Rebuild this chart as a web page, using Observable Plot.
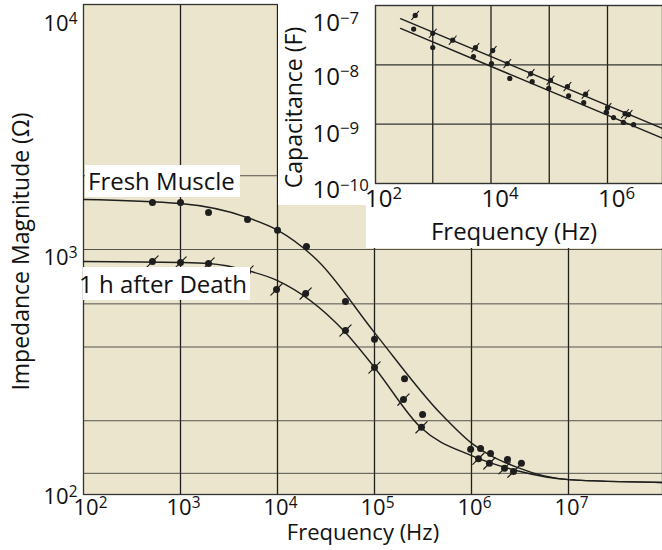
<!DOCTYPE html>
<html><head><meta charset="utf-8">
<script src="https://cdn.jsdelivr.net/npm/d3@7"></script>
<script src="https://cdn.jsdelivr.net/npm/@observablehq/plot@0.6"></script>
<style>
body{margin:0;background:#fff;}
#wrap{position:relative;width:662px;height:550px;overflow:hidden;font-family:"Open Sans",sans-serif;}
#wrap svg{position:absolute;overflow:hidden;}
.white{position:absolute;background:#fff;}
.lbl{position:absolute;background:#fff;font-size:24px;color:#111;white-space:nowrap;font-family:"Open Sans",sans-serif;}
</style></head><body><div id="wrap"></div>
<script>
// ---- Main chart: impedance magnitude vs frequency ----
const freshCurveFreq = [100, 1000, 4900, 10000, 26000, 100000, 480000, 1e6, 2.96e6, 1e7, 9.3e7];
const freshCurveZ    = [1600, 1540, 1350, 1200, 900, 458, 214, 162, 129, 115, 112];
const deathCurveFreq = [100, 1000, 1945, 4910, 10000, 48000, 100000, 298000, 1e6, 2.96e6, 1e7, 9.3e7];
const deathCurveZ    = [893, 885, 877, 820, 747, 467, 330, 188, 144, 125, 115, 112];

const freshFreq = [514, 1000, 1945, 4910, 10000, 19900, 50200, 100000, 204000, 313000, 980000, 1.24e6, 1.57e6, 2.35e6, 3.27e6];
const freshZ    = [1556, 1556, 1416, 1325, 1197, 1028, 614, 430, 297, 212, 153, 154, 147, 139, 134];
const deathFreq = [514, 1000, 1945, 4910, 9770, 19500, 50200, 100000, 199000, 305000, 1.18e6, 1.53e6, 2.19e6, 2.71e6];
const deathZ    = [893, 885, 877, 813, 687, 661, 467, 330, 244, 188, 140, 134, 128, 124];

const mainXTicks = [1e2, 1e3, 1e4, 1e5, 1e6, 1e7];
const mainXGrid  = [1e3, 1e4, 1e5, 1e6, 1e7];
const mainYGrid  = [122, 200, 400, 600, 1000, 2000];

// ---- Inset: capacitance vs frequency ----
const capUpperLineFreq = [280, 8.7e6];
const capUpperLineC    = [6.0e-8, 8.5e-10];
const capLowerLineFreq = [280, 8.7e6];
const capLowerLineC    = [4.1e-8, 5.8e-10];

const capUpperFreq = [500, 1000, 2200, 5400, 10700, 19000, 48000, 105000, 205000, 420000, 1e6, 2.0e6, 2.3e6];
const capUpperC    = [6.8e-8, 3.4e-8, 2.6e-8, 1.95e-8, 1.74e-8, 1.05e-8, 7.1e-9, 5.5e-9, 4.3e-9, 3.2e-9, 1.9e-9, 1.5e-9, 1.45e-9];
const capLowerFreq = [470, 1000, 5000, 10200, 21000, 51000, 98000, 215000, 390000, 960000, 1.27e6, 1.87e6, 2.8e6];
const capLowerC    = [4.0e-8, 1.95e-8, 1.38e-8, 1.05e-8, 5.9e-9, 5.2e-9, 4.0e-9, 3.0e-9, 2.3e-9, 1.58e-9, 1.29e-9, 1.07e-9, 9.8e-10];

const insetXTicks = [1e2, 1e4, 1e6];
const insetXGrid  = [1e3, 1e4, 1e5, 1e6];
const insetYGrid  = [1e-9, 1e-8];

const zip = (a, b) => a.map((v, i) => ({f: v, v: b[i]}));
const beige = "#eae5cc";
const ink = "#1e1e1e";
const slash = {draw(ctx, l) { ctx.moveTo(0, 0); ctx.lineTo(0, -l); }};
const pow = d => `10^${Math.round(Math.log10(d)).toString().replace("-", "\u2212")}`;

function supify(svg) {
  const ns = "http://www.w3.org/2000/svg";
  svg.querySelectorAll("text").forEach(t => {
    if (t.children.length) return;
    const m = t.textContent.match(/^(\d+)\^(.+)$/);
    if (!m) return;
    t.textContent = "";
    const a = document.createElementNS(ns, "tspan"); a.textContent = m[1];
    const b = document.createElementNS(ns, "tspan"); b.textContent = m[2];
    b.setAttribute("dy", "-0.45em"); b.setAttribute("font-size", "0.7em");
    t.append(a, b);
  });
}

const wrap = document.getElementById("wrap");

const main = Plot.plot({
  width: 662, height: 550,
  marginLeft: 83, marginRight: 0, marginTop: 4, marginBottom: 56,
  style: {fontFamily: "Open Sans", fontSize: "22px", color: "#111", background: "transparent"},
  x: {type: "log", domain: [1e2, 1e8], range: [83, 665]},
  y: {type: "log", domain: [1e2, 1e4], range: [494, 4]},
  marks: [
    Plot.frame({fill: beige}),
    Plot.ruleX(mainXGrid, {stroke: ink, strokeWidth: 1.3}),
    Plot.ruleY(mainYGrid, {stroke: "#3a3a3a", strokeWidth: 1, strokeOpacity: 0.85}),
    Plot.frame({stroke: "#333", strokeWidth: 1.3}),
    Plot.line(zip(freshCurveFreq, freshCurveZ), {x: "f", y: "v", curve: "monotone-x", stroke: ink, strokeWidth: 1.4, clip: true}),
    Plot.line(zip(deathCurveFreq, deathCurveZ), {x: "f", y: "v", curve: "monotone-x", stroke: ink, strokeWidth: 1.4, clip: true}),
    Plot.dot(zip(freshFreq, freshZ), {x: "f", y: "v", r: 3.5, fill: ink}),
    Plot.dot(zip(deathFreq, deathZ), {x: "f", y: "v", r: 3.5, fill: ink}),
    Plot.vector(zip(deathFreq, deathZ), {x: "f", y: "v", rotate: 45, length: 16, anchor: "middle", shape: slash, stroke: ink, strokeWidth: 1.2}),
    Plot.axisX([1e2], {tickSize: 0, tickPadding: 5, tickFormat: pow, dx: 7, label: null}),
    Plot.axisX(mainXTicks.slice(1), {tickSize: 0, tickPadding: 5, tickFormat: pow, dx: 3, label: null}),
    Plot.axisY([1e4], {tickSize: 0, tickPadding: 6, tickFormat: pow, dy: 19, label: null}),
    Plot.axisY([1e3], {tickSize: 0, tickPadding: 6, tickFormat: pow, dy: 8, label: null}),
    Plot.axisY([1e2], {tickSize: 0, tickPadding: 6, tickFormat: pow, dy: 2, label: null}),
    Plot.text(["Frequency (Hz)"], {frameAnchor: "bottom", lineAnchor: "middle", textAnchor: "middle", text: d => d, dy: 38, dx: -10, fill: "#111"}),
    Plot.text(["Impedance Magnitude (\u03A9)"], {frameAnchor: "left", lineAnchor: "middle", textAnchor: "middle", text: d => d, rotate: -90, dx: -62, dy: 2, fontSize: 23, fill: "#111"})
  ]
});
main.style.left = "0px"; main.style.top = "0px";
supify(main);
wrap.appendChild(main);

// white backing for inset
for (const [l, t, w, h] of [[278, 0, 384, 205], [366, 205, 296, 43]]) {
  const d = document.createElement("div"); d.className = "white";
  Object.assign(d.style, {left: l + "px", top: t + "px", width: w + "px", height: h + "px"});
  wrap.appendChild(d);
}

const inset = Plot.plot({
  width: 384, height: 248,
  marginLeft: 97, marginRight: 0, marginTop: 5, marginBottom: 65,
  style: {fontFamily: "Open Sans", fontSize: "24px", color: "#111", background: "transparent"},
  x: {type: "log", domain: [1e2, 1e7], range: [96, 387.25]},
  y: {type: "log", domain: [1e-10, 1e-7], range: [183, 5]},
  marks: [
    Plot.frame({fill: beige}),
    Plot.ruleX(insetXGrid, {stroke: ink, strokeWidth: 1.3}),
    Plot.ruleY(insetYGrid, {stroke: "#333", strokeWidth: 1.2}),
    Plot.frame({stroke: "#333", strokeWidth: 1.4}),
    Plot.line(zip(capUpperLineFreq, capUpperLineC), {x: "f", y: "v", stroke: ink, strokeWidth: 1.4, clip: true}),
    Plot.line(zip(capLowerLineFreq, capLowerLineC), {x: "f", y: "v", stroke: ink, strokeWidth: 1.4, clip: true}),
    Plot.dot(zip(capUpperFreq, capUpperC), {x: "f", y: "v", r: 2.6, fill: ink}),
    Plot.vector(zip(capUpperFreq, capUpperC), {x: "f", y: "v", rotate: 40, length: 11, anchor: "middle", shape: slash, stroke: ink, strokeWidth: 1.1}),
    Plot.dot(zip(capLowerFreq, capLowerC), {x: "f", y: "v", r: 2.6, fill: ink}),
    Plot.axisX(insetXTicks, {tickSize: 0, tickPadding: 6, tickFormat: pow, textAnchor: "middle", dx: 9, label: null}),
    Plot.axisY([1e-7], {tickSize: 0, tickPadding: 0, tickFormat: pow, textAnchor: "start", dx: -63, dy: 18, label: null}),
    Plot.axisY([1e-8], {tickSize: 0, tickPadding: 0, tickFormat: pow, textAnchor: "start", dx: -63, dy: 12, label: null}),
    Plot.axisY([1e-9], {tickSize: 0, tickPadding: 0, tickFormat: pow, textAnchor: "start", dx: -63, dy: 10, label: null}),
    Plot.axisY([1e-10], {tickSize: 0, tickPadding: 0, tickFormat: pow, textAnchor: "start", dx: -63, dy: 7, label: null}),
    Plot.text(["Frequency (Hz)"], {frameAnchor: "bottom", lineAnchor: "middle", textAnchor: "middle", text: d => d, dy: 49, dx: -5, fill: "#111"}),
    Plot.text(["Capacitance (F)"], {frameAnchor: "left", lineAnchor: "middle", textAnchor: "middle", text: d => d, rotate: -90, dx: -81, dy: 13, fontSize: 23, fill: "#111"})
  ]
});
inset.style.left = "278px"; inset.style.top = "0px";
supify(inset);
wrap.appendChild(inset);

// annotation labels
for (const [txt, l, t, w, h, indent] of [["Fresh Muscle", 85, 165, 155, 32, 3], ["1 h after Death", 83, 267, 167, 33, -4]]) {
  const d = document.createElement("div"); d.className = "lbl";
  Object.assign(d.style, {left: l + "px", top: t + "px", width: w + "px", height: h + "px", lineHeight: h + "px", textIndent: indent + "px"});
  d.textContent = txt;
  wrap.appendChild(d);
}
</script></body></html>
